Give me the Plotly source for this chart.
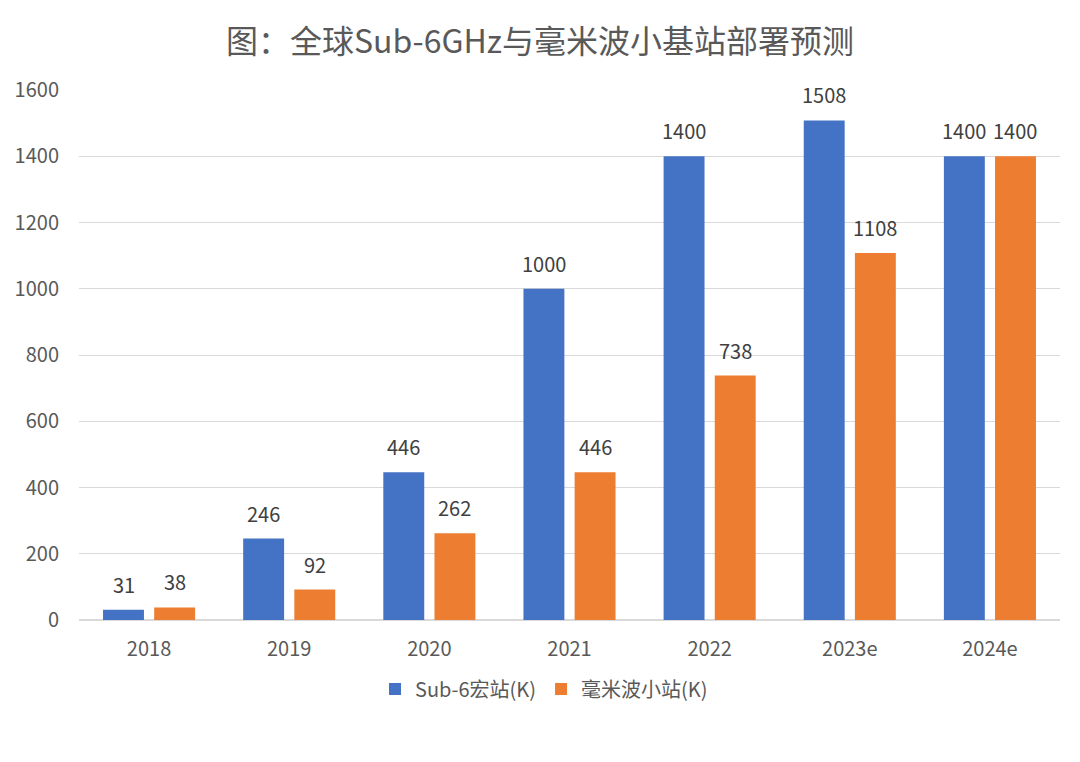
import plotly.graph_objects as go

categories = ["2018", "2019", "2020", "2021", "2022", "2023e", "2024e"]
sub6_macro = [31, 246, 446, 1000, 1400, 1508, 1400]
mmwave_small = [38, 92, 262, 446, 738, 1108, 1400]
series_names = ["Sub-6宏站(K)", "毫米波小站(K)"]
y_ticks = [0, 200, 400, 600, 800, 1000, 1200, 1400, 1600]

FONT = "Noto Sans CJK SC, Noto Sans, sans-serif"
COLORS = ["#4472C4", "#ED7D31"]

fig = go.Figure()
for name, vals, col in zip(series_names, [sub6_macro, mmwave_small], COLORS):
    fig.add_trace(go.Bar(x=categories, y=vals, name=name, marker=dict(color=col, line=dict(width=0))))

# data labels above bars (category axis: annotation x given as category index)
for vals, shift in [(sub6_macro, -25.5), (mmwave_small, 25.5)]:
    for i, v in enumerate(vals):
        fig.add_annotation(x=i, y=v, xref="x", yref="y", text=str(v), showarrow=False,
                           xshift=shift, yanchor="bottom", yshift=9,
                           font=dict(size=20, color="#404040", family=FONT))

fig.update_layout(
    width=1080, height=762,
    paper_bgcolor="white", plot_bgcolor="white",
    font=dict(family=FONT, color="#595959"),
    title=dict(text="图：全球Sub-6GHz与毫米波小基站部署预测", x=0.5, xanchor="center",
               y=0.945, yanchor="middle", font=dict(size=32, color="#595959", family=FONT)),
    margin=dict(l=79, r=20, t=90, b=142),
    barmode="group", bargap=0.27, bargroupgap=0.2,
    showlegend=True,
    legend=dict(orientation="h", x=0.474, xanchor="center", y=-0.13, yanchor="middle",
                font=dict(size=20, color="#595959", family=FONT), itemwidth=30,
                traceorder="normal"),
    xaxis=dict(type="category", categoryorder="array", categoryarray=categories,
               range=[-0.5, len(categories) - 0.5],
               showgrid=False, showline=True, linecolor="#D9D9D9", linewidth=1,
               ticks="", tickfont=dict(size=20, color="#595959"), ticklabelstandoff=11),
    yaxis=dict(range=[0, 1600], tickvals=y_ticks, showgrid=True, gridcolor="#D9D9D9",
               gridwidth=1, zeroline=True, zerolinecolor="#D9D9D9", ticks="",
               tickfont=dict(size=20, color="#595959"), ticklabelstandoff=19),
)
fig.write_html("out.html")
